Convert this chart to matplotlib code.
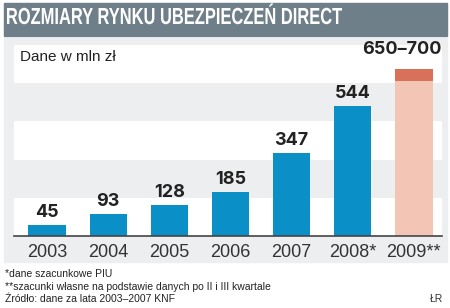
import matplotlib.pyplot as plt
from matplotlib.patches import Rectangle, PathPatch
from matplotlib.textpath import TextPath
from matplotlib.font_manager import FontProperties
from matplotlib.transforms import Affine2D, IdentityTransform

years = ["2003", "2004", "2005", "2006", "2007", "2008*", "2009**"]
values = [45, 93, 128, 185, 347, 544, 650]
range_top = 700          # upper end of the 2009 estimate
value_labels = ["45", "93", "128", "185", "347", "544", "650\u2013700"]
band_edges = [0, 160, 320, 480, 640, 800]

title = "ROZMIARY RYNKU UBEZPIECZEŃ DIRECT"
unit_note = "Dane w mln zł"
footnotes = ["*dane szacunkowe PIU",
             "**szacunki własne na podstawie danych po II i III kwartale",
             "Źródło: dane za lata 2003\u20132007 KNF"]
author = "ŁR"

W, H = 450, 308
BLUE = "#0a8fc6"
PEACH = "#f2c5b4"
RED = "#d8705a"
GRAY_BG = "#eceef0"
TITLE_BG = "#6f7f89"

plt.rcParams["font.family"] = ["Liberation Sans", "DejaVu Sans"]

fig = plt.figure(figsize=(W / 100, H / 100), dpi=100)


def px_rect(x0, y0, x1, y1, color):
    # pixel box (top-left origin) -> figure rectangle
    fig.patches.append(Rectangle((x0 / W, 1 - y1 / H), (x1 - x0) / W, (y1 - y0) / H,
                                 transform=fig.transFigure, color=color, zorder=0))


px_rect(4, 3, 447, 36, TITLE_BG)
px_rect(4, 38, 447, 262, GRAY_BG)

# condensed bold title: squeeze a text path into the box the reference uses
bold = FontProperties(family="Liberation Sans", weight="bold")
tp = TextPath((0, 0), title, size=20, prop=bold)
ext = tp.get_extents()
cap = TextPath((0, 0), "D", size=20, prop=bold).get_extents()
sx = 335 / ext.width
sy = 16 / cap.height
tr = Affine2D().translate(-ext.x0, 0).scale(sx, sy).translate(7, H - 24)
fig.patches.append(PathPatch(tr.transform_path(tp), transform=IdentityTransform(),
                             color="white", lw=0, zorder=1))

# axes area: x 14..442, y 45..236 px
ax = fig.add_axes([14 / W, 1 - 236 / H, 428 / W, 191 / H], zorder=2)
ax.patch.set_alpha(0)
for i in range(0, len(band_edges) - 1, 2):
    ax.axhspan(band_edges[i], band_edges[i + 1], color="white", zorder=0, lw=0)

x = list(range(len(years)))
ax.bar(x[:-1], values[:-1], width=0.61, color=BLUE, zorder=2)
ax.bar(x[-1], values[-1], width=0.61, color=PEACH, zorder=2)
ax.bar(x[-1], range_top - values[-1], bottom=values[-1], width=0.61, color=RED, zorder=2)

lab_font = dict(fontsize=13, fontweight="bold", color="#222222", family=["Inter", "Liberation Sans"])
for xi, v, lab in zip(x[:-1], values[:-1], value_labels[:-1]):
    ax.annotate(lab, (xi, v), xytext=(0, 3), textcoords="offset points",
                ha="center", va="bottom", **lab_font)
ax.annotate(value_labels[-1], (x[-1], range_top), xytext=(20, 8), textcoords="offset points",
            ha="right", va="bottom", annotation_clip=False, **lab_font)

ax.set_xlim(-0.54, len(years) - 0.54)
ax.set_ylim(band_edges[0], band_edges[-1])
ax.set_xticks(x)
ax.set_xticklabels(years, fontsize=13, color="#333333")
ax.tick_params(axis="x", length=0, pad=6)
ax.set_yticks([])
for s in ["top", "right", "left"]:
    ax.spines[s].set_visible(False)
ax.spines["bottom"].set_color("#444444")
ax.spines["bottom"].set_linewidth(1.2)
ax.spines["bottom"].set_zorder(3)

ax.text(0.014, (band_edges[-1] + band_edges[-2]) / 2 + 30, unit_note, fontsize=11,
        color="#222222", va="center", ha="left", transform=ax.get_yaxis_transform())

for i, line in enumerate(footnotes):
    fig.text(5 / W, 1 - (274 + 12.5 * i) / H, line, fontsize=7.5, color="#222222",
             va="center", ha="left")
fig.text(443 / W, 1 - 299 / H, author, fontsize=7.5, color="#333333", va="center", ha="right")

fig.savefig("out.png", dpi=100)
